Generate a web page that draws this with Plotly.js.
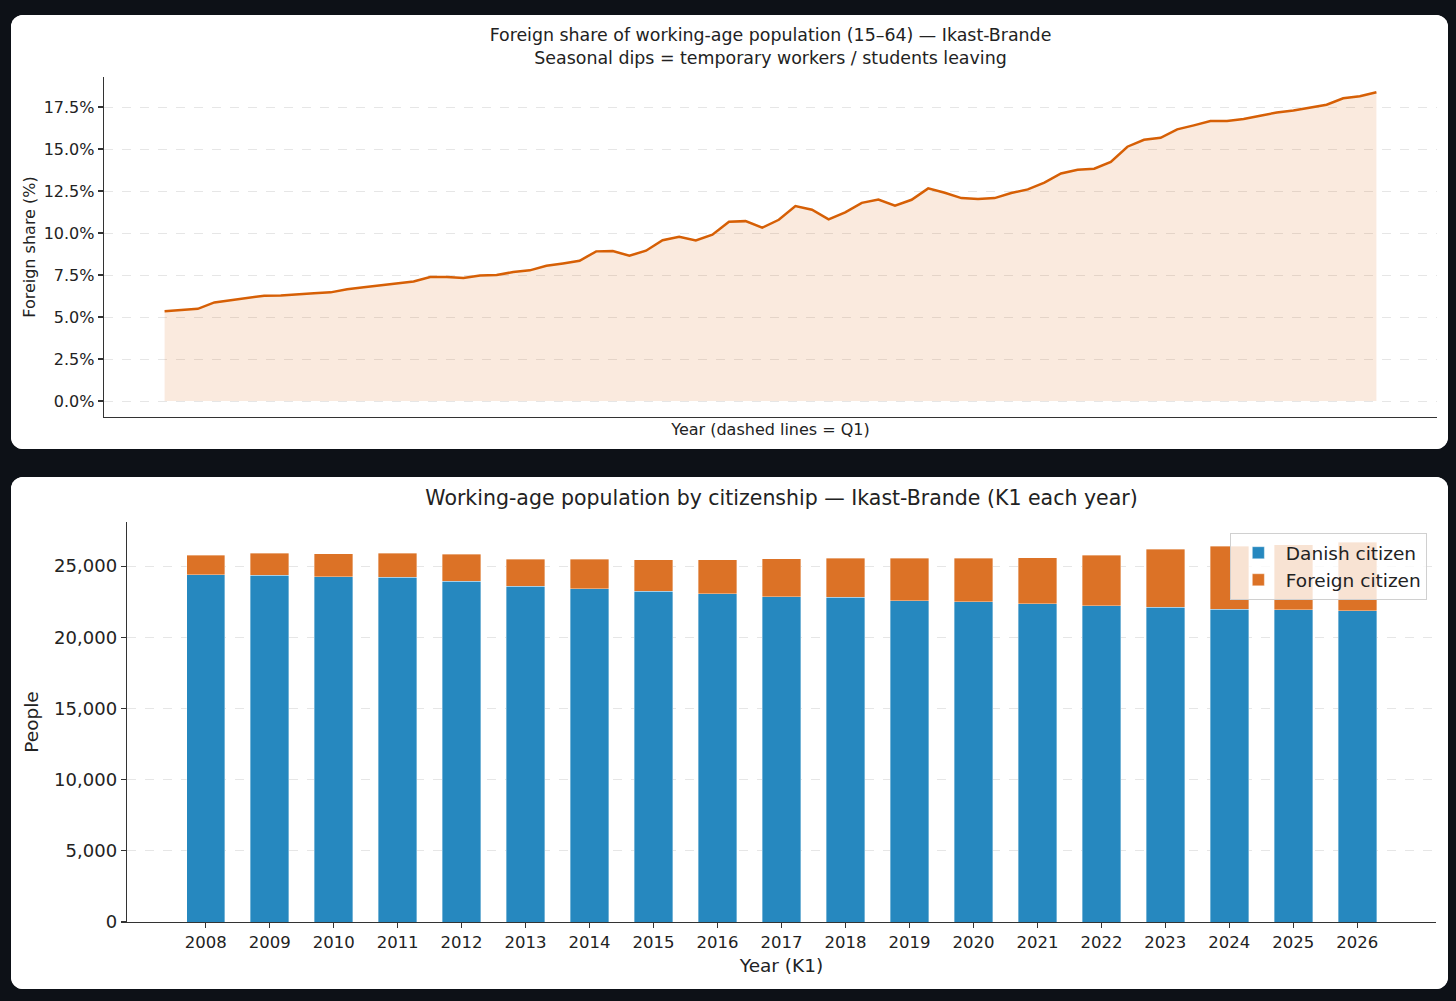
<!DOCTYPE html>
<html>
<head>
<meta charset="utf-8">
<script src="https://cdn.plot.ly/plotly-3.0.1.min.js"></script>
<style>
  html, body { margin: 0; padding: 0; background: #0d1117; }
  body { width: 1456px; height: 1001px; position: relative; overflow: hidden; }
  .panel { position: absolute; background: #fff; border-radius: 12px; overflow: hidden; }
  #share-plot { left: 11px; top: 15px; width: 1437px; height: 434px; }
  #pop-plot { left: 11px; top: 477px; width: 1437px; height: 512px; }
</style>
</head>
<body>
<div id="share-plot" class="panel"></div>
<div id="pop-plot" class="panel"></div>
<script>
// Foreign share of 15-64 population, quarterly from 2008Q1
const shareStartYear = 2008;
const foreignShare = [
  5.34, 5.40, 5.49, 5.87, 6.01, 6.17, 6.27, 6.29, 6.33, 6.41,
  6.47, 6.65, 6.77, 6.90, 7.02, 7.12, 7.38, 7.38, 7.33, 7.48,
  7.50, 7.68, 7.78, 8.05, 8.19, 8.35, 8.91, 8.93, 8.65, 8.95,
  9.57, 9.78, 9.56, 9.90, 10.67, 10.71, 10.32, 10.79, 11.61, 11.39,
  10.81, 11.23, 11.80, 12.00, 11.63, 11.98, 12.66, 12.40, 12.08, 12.02,
  12.08, 12.38, 12.60, 13.00, 13.55, 13.77, 13.83, 14.23, 15.14, 15.55,
  15.67, 16.17, 16.41, 16.67, 16.67, 16.79, 16.98, 17.18, 17.30, 17.48,
  17.64, 18.02, 18.15, 18.38
];
const shareTicks = [0, 2.5, 5, 7.5, 10, 12.5, 15, 17.5];
const shareTickText = ["0.0%", "2.5%", "5.0%", "7.5%", "10.0%", "12.5%", "15.0%", "17.5%"];

// K1 population by citizenship
const years = [2008, 2009, 2010, 2011, 2012, 2013, 2014, 2015, 2016, 2017,
  2018, 2019, 2020, 2021, 2022, 2023, 2024, 2025, 2026];
const danishCitizens = [24390, 24343, 24249, 24202, 23944, 23592, 23427, 23239, 23051, 22864,
  22817, 22582, 22488, 22347, 22207, 22113, 21972, 21925, 21878];
const foreignCitizens = [1385, 1573, 1620, 1714, 1878, 1901, 2066, 2207, 2395, 2652,
  2723, 2958, 3052, 3240, 3568, 4084, 4413, 4577, 4789];

const FONT = "DejaVu Sans, sans-serif";
const TEXT = "#222";
const ORANGE = "#d65f05";

const quarterLabels = foreignShare.map((_, i) =>
  `${shareStartYear + Math.floor(i / 4)}Q${(i % 4) + 1}`);

function drawShare(element) {
  const trace = {
    x: quarterLabels,
    y: foreignShare,
    type: "scatter",
    mode: "lines",
    line: {color: ORANGE, width: 2.5},
    fill: "tozeroy",
    fillcolor: "rgba(217,95,2,0.13)",
    hoverinfo: "skip"
  };

  const layout = {
    width: 1437,
    height: 434,
    margin: {l: 93, r: 11, t: 62, b: 32},
    paper_bgcolor: "#fff",
    plot_bgcolor: "#fff",
    font: {family: FONT, color: TEXT},
    showlegend: false,
    title: {
      text: "Foreign share of working-age population (15–64) — Ikast-Brande<br>Seasonal dips = temporary workers / students leaving",
      font: {size: 17.4, color: TEXT},
      x: 0.5, xref: "paper",
      y: 1 - 26 / 434, yref: "container", yanchor: "top"
    },
    xaxis: {
      type: "category",
      range: [-3.65, foreignShare.length - 1 + 3.65],
      showticklabels: false,
      ticks: "",
      showgrid: false,
      zeroline: false,
      showline: true, linecolor: "#333", linewidth: 1.3,
      title: {text: "Year (dashed lines = Q1)", font: {size: 16, color: TEXT}, standoff: 6}
    },
    yaxis: {
      range: [-0.95, 19.29],
      tickvals: shareTicks,
      ticktext: shareTickText,
      ticks: "outside", ticklen: 5, tickcolor: "#333", tickwidth: 1.2,
      tickfont: {size: 16, color: TEXT},
      showgrid: true, gridcolor: "#e6e6e6", griddash: "dash", gridwidth: 1,
      zeroline: false,
      showline: true, linecolor: "#333", linewidth: 1.3,
      title: {text: "Foreign share (%)", font: {size: 16, color: TEXT}, standoff: 4}
    }
  };

  Plotly.newPlot(element, [trace], layout, {staticPlot: true});
}

function drawPopulation(element) {
  const danish = {
    x: years,
    y: danishCitizens,
    name: "Danish citizen",
    type: "bar",
    width: 0.6,
    marker: {color: "#2688bf", line: {color: "rgba(255,255,255,0.6)", width: 0.6}},
    hoverinfo: "skip"
  };

  const foreign = {
    x: years,
    y: foreignCitizens,
    name: "Foreign citizen",
    type: "bar",
    width: 0.6,
    marker: {color: "#dc7226", line: {color: "rgba(255,255,255,0.6)", width: 0.6}},
    hoverinfo: "skip"
  };

  const layout = {
    width: 1437,
    height: 512,
    margin: {l: 116, r: 12, t: 45, b: 67},
    paper_bgcolor: "#fff",
    plot_bgcolor: "#fff",
    font: {family: FONT, color: TEXT},
    barmode: "stack",
    title: {
      text: "Working-age population by citizenship — Ikast-Brande (K1 each year)",
      font: {size: 20.5, color: TEXT},
      x: 0.5, xref: "paper",
      y: 1 - 21 / 512, yref: "container", yanchor: "middle"
    },
    legend: {
      x: 0.993, xanchor: "right",
      y: 0.972, yanchor: "top",
      bgcolor: "rgba(255,255,255,0.8)",
      bordercolor: "#d0d0d0", borderwidth: 1,
      font: {size: 18.5, color: TEXT},
      itemwidth: 45,
      tracegroupgap: 0,
      traceorder: "normal"
    },
    xaxis: {
      range: [years[0] - 1.23, years[years.length - 1] + 1.23],
      tickvals: years,
      ticktext: years.map(String),
      ticks: "outside", ticklen: 5, tickcolor: "#333", tickwidth: 1.2,
      tickfont: {size: 16.5, color: TEXT},
      showgrid: false, zeroline: false,
      showline: true, linecolor: "#333", linewidth: 1.3,
      title: {text: "Year (K1)", font: {size: 18.5, color: TEXT}, standoff: 8}
    },
    yaxis: {
      range: [0, 28100],
      tickvals: [0, 5000, 10000, 15000, 20000, 25000],
      tickformat: ",d",
      ticks: "outside", ticklen: 5, tickcolor: "#333", tickwidth: 1.2,
      tickfont: {size: 18, color: TEXT},
      showgrid: true, gridcolor: "#e6e6e6", griddash: "dash", gridwidth: 1,
      zeroline: false,
      showline: true, linecolor: "#333", linewidth: 1.3,
      title: {text: "People", font: {size: 18.5, color: TEXT}, standoff: 10}
    }
  };

  Plotly.newPlot(element, [danish, foreign], layout, {staticPlot: true});
}

drawShare(document.getElementById("share-plot"));
drawPopulation(document.getElementById("pop-plot"));
</script>
</body>
</html>
